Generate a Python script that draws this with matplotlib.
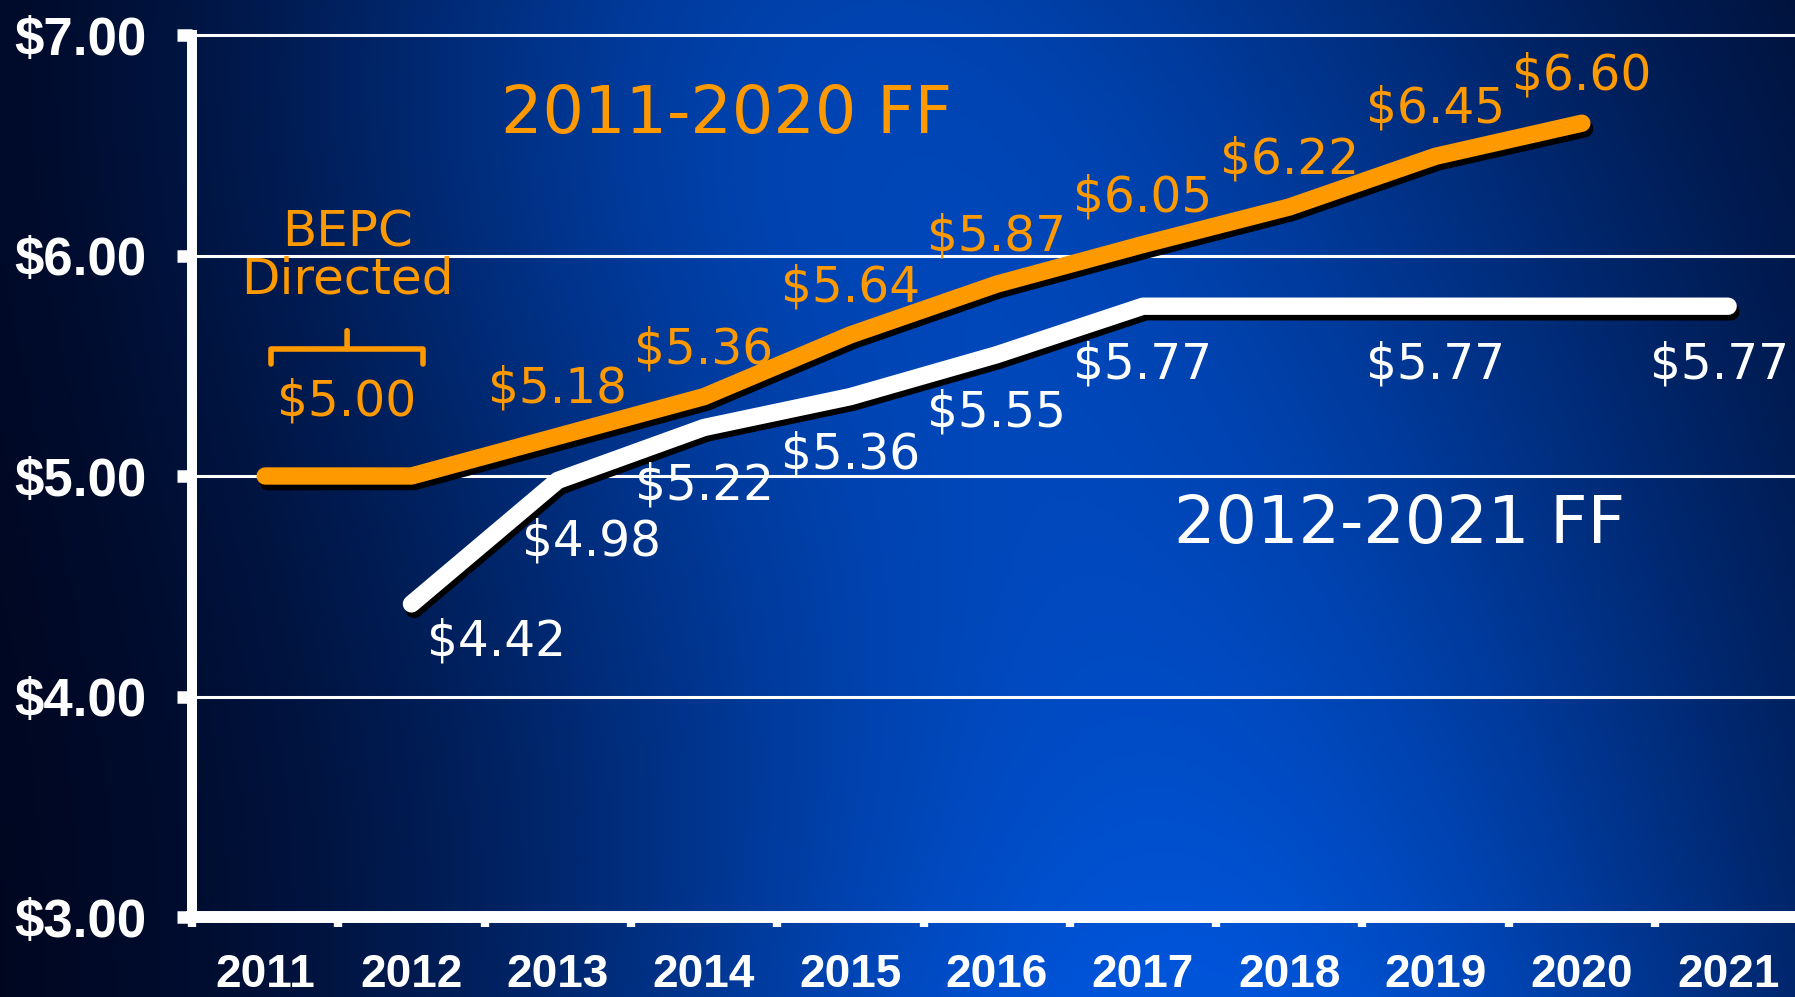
import numpy as np
import matplotlib
matplotlib.use("Agg")
import matplotlib.pyplot as plt
from matplotlib import patheffects as pe

# ---- data ----
years = ["2011", "2012", "2013", "2014", "2015", "2016", "2017", "2018", "2019", "2020", "2021"]
ff_2011_2020 = [5.00, 5.00, 5.18, 5.36, 5.64, 5.87, 6.05, 6.22, 6.45, 6.60]   # 2011..2020
ff_2012_2021 = [4.42, 4.98, 5.22, 5.36, 5.55, 5.77, 5.77, 5.77, 5.77, 5.77]   # 2012..2021
orange_labeled = [2, 3, 4, 5, 6, 7, 8, 9]          # year index with a value label
white_labeled = [1, 2, 3, 4, 5, 6, 8, 10]
bepc_value = 5.00
yticks = [3, 4, 5, 6, 7]

ORANGE = "#FF9900"
WHITE = "white"
LBL = "DejaVu Sans"
AX = "Liberation Sans"

fig = plt.figure(figsize=(17.95, 9.97), dpi=100)

# background gradient
bg = fig.add_axes([0, 0, 1, 1], zorder=-5)
gx, gy = np.meshgrid(np.linspace(0, 1, 400), np.linspace(0, 1, 220))
b = np.exp(-((gx - 0.66) / 0.38) ** 2) * (0.45 + 0.55 * gy)
b += 0.45 * np.exp(-((gx - 0.40) / 0.30) ** 2 - (gy / 0.6) ** 2)
b = np.clip(b, 0, 1)
dark = np.array([0.0, 0.01, 0.09])
bright = np.array([0.0, 0.33, 0.85])
img = dark[None, None, :] + b[..., None] * (bright - dark)[None, None, :]
bg.imshow(img, aspect="auto", extent=[0, 1, 0, 1], origin="upper")
bg.axis("off")

ax = fig.add_axes([192 / 1795, 80 / 997, 11 * 146.3 / 1795, 882 / 997])
ax.set_facecolor("none")
x1 = np.arange(0, len(ff_2011_2020))
x2 = np.arange(1, 1 + len(ff_2012_2021))

shadow = [pe.SimpleLineShadow(offset=(2, -4), shadow_color="black", alpha=1.0), pe.Normal()]
l2, = ax.plot(x2, ff_2012_2021, color=WHITE, lw=12.5, solid_capstyle="round", zorder=4)
l1, = ax.plot(x1, ff_2011_2020, color=ORANGE, lw=12.5, solid_capstyle="round", zorder=5)
l1.set_path_effects(shadow)
l2.set_path_effects(shadow)

# value labels
for i in orange_labeled:
    ax.annotate(f"${ff_2011_2020[i]:.2f}", (x1[i], ff_2011_2020[i]), xytext=(0, 24),
                textcoords="offset points", ha="center", va="baseline",
                color=ORANGE, fontsize=35, family=LBL, zorder=6)
white_offsets = {1: (61, -37), 2: (24, -54), 10: (-6, -52)}
for i in white_labeled:
    k = i - 1
    ax.annotate(f"${ff_2012_2021[k]:.2f}", (x2[k], ff_2012_2021[k]),
                xytext=white_offsets.get(i, (0, -52)), textcoords="offset points",
                ha="center", va="baseline", color=WHITE, fontsize=35, family=LBL, zorder=6)

# BEPC directed bracket
bx = 0.56
ax.text(bx, 6.041, "BEPC", ha="center", va="baseline", color=ORANGE, fontsize=36, family=LBL)
ax.text(bx, 5.827, "Directed", ha="center", va="baseline", color=ORANGE, fontsize=36, family=LBL)
ax.annotate("", xy=(bx, 5.577), xytext=(0, 13), textcoords="offset points",
            xycoords="data",
            arrowprops=dict(arrowstyle="-[, widthB=2.75, lengthB=0.55", color=ORANGE, lw=4,
                            shrinkA=0, shrinkB=0, mutation_scale=20))
ax.text(bx, 5.273, f"${bepc_value:.2f}", ha="center", va="baseline", color=ORANGE,
        fontsize=35, family=LBL)

# series titles
ax.text(3.157, 6.555, "2011-2020 FF", ha="center", va="baseline", color=ORANGE, fontsize=47, family=LBL)
ax.text(7.757, 4.695, "2012-2021 FF", ha="center", va="baseline", color=WHITE, fontsize=47, family=LBL)

# axes styling
ax.set_xlim(-0.5, 10.5)
ax.set_ylim(3, 7)
ax.set_yticks(yticks)
ax.set_yticklabels([f"${v:.2f}" for v in yticks])
ax.set_xticks(np.arange(len(years)))
ax.set_xticklabels(years)
ax.set_xticks(np.arange(len(years) + 1) - 0.5, minor=True)
ax.tick_params(axis="x", which="major", length=0, pad=26, labelsize=33, labelcolor=WHITE)
ax.tick_params(axis="x", which="minor", length=7, width=6, color=WHITE, direction="out")
ax.tick_params(axis="y", length=11, width=9, color=WHITE, pad=22, labelsize=38, labelcolor=WHITE)
for t in ax.get_xticklabels() + ax.get_yticklabels():
    t.set_fontfamily(AX)
    t.set_fontweight("bold")
ax.grid(axis="y", color=WHITE, lw=2.2, zorder=1)
ax.set_axisbelow(True)
for g in ax.get_ygridlines():
    g.set_clip_on(False)
for s in ("top", "right"):
    ax.spines[s].set_visible(False)
ax.spines["left"].set_color(WHITE)
ax.spines["left"].set_linewidth(7.2)
ax.spines["bottom"].set_color(WHITE)
ax.spines["bottom"].set_linewidth(8.6)

fig.savefig("out.png", dpi=100)
